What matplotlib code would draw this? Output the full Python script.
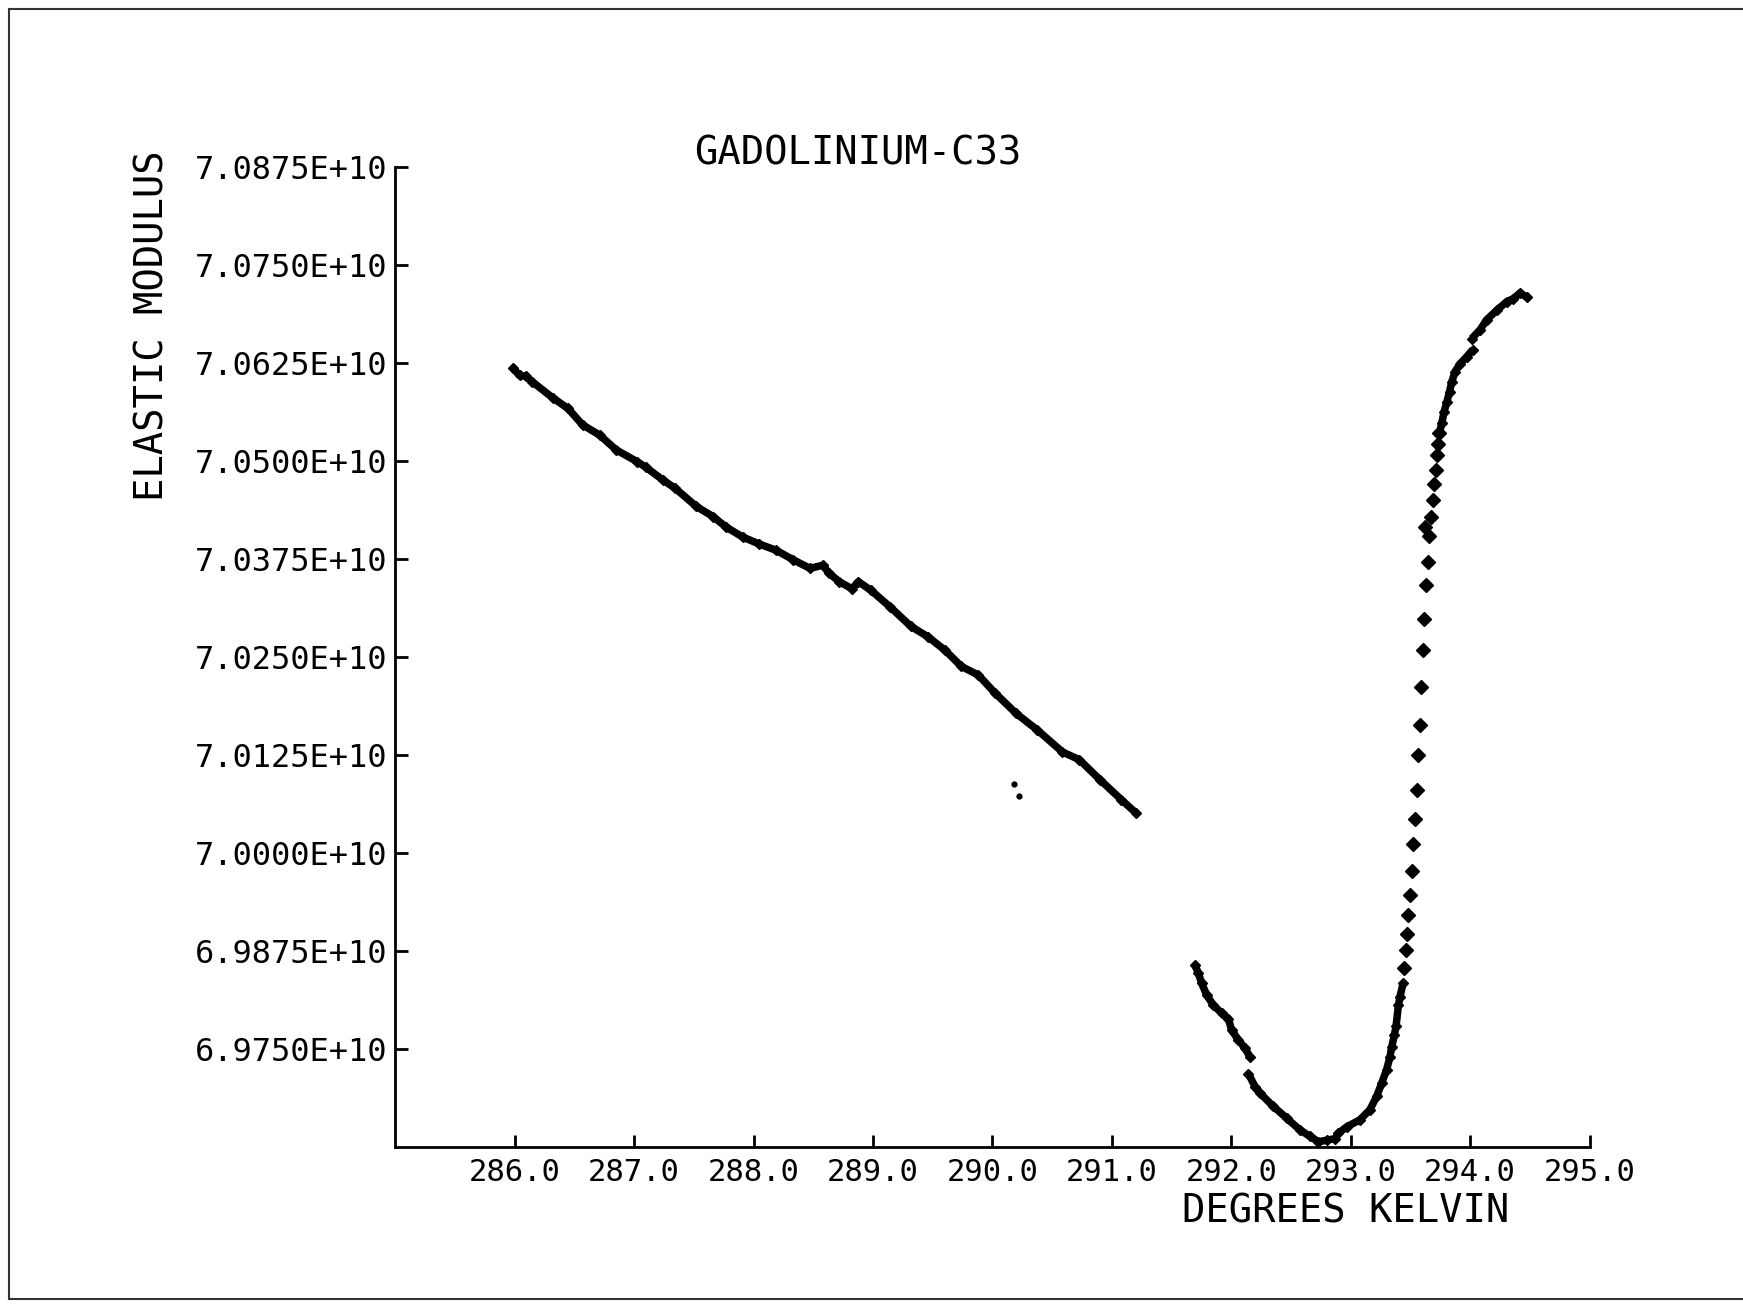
import matplotlib
matplotlib.use("Agg")
import matplotlib.pyplot as plt
from matplotlib.lines import Line2D
from matplotlib.ticker import FuncFormatter

# --- data (y in units of 1E+10) ---

# low temperature branch, 286 K .. 291.2 K
T_LOW = [285.987, 286.040, 286.093, 286.146, 286.322, 286.445, 286.568, 286.710,
         286.850, 287.026, 287.097, 287.238, 287.344, 287.520, 287.661, 287.767,
         287.908, 288.049, 288.190, 288.331, 288.472, 288.578, 288.631, 288.718,
         288.824, 288.878, 288.983, 289.142, 289.318, 289.458, 289.600, 289.740,
         289.882, 290.022, 290.199, 290.375, 290.586, 290.728, 290.904, 291.080,
         291.203]
C_LOW = [7.0618, 7.0609, 7.0608, 7.0601, 7.0580, 7.0567, 7.0546, 7.0533,
         7.0514, 7.0499, 7.0492, 7.0476, 7.0465, 7.0442, 7.0429, 7.0416,
         7.0403, 7.0394, 7.0386, 7.0374, 7.0363, 7.0367, 7.0357, 7.0346,
         7.0337, 7.0346, 7.0335, 7.0314, 7.0289, 7.0276, 7.0259, 7.0238,
         7.0227, 7.0204, 7.0178, 7.0157, 7.0129, 7.0119, 7.0093, 7.0068,
         7.0051]

# two stray points below the low branch
T_STRAY = [290.179, 290.226]
C_STRAY = [7.0088, 7.0073]

# dip near the transition
T_DIP_A = [291.696, 291.724, 291.752, 291.794, 291.850, 291.919, 291.975,
           292.003, 292.059, 292.115, 292.157]
C_DIP_A = [6.9857, 6.9847, 6.9834, 6.9819, 6.9806, 6.9796, 6.9789,
           6.9774, 6.9762, 6.9751, 6.9740]

T_DIP_B = [292.143, 292.199, 292.240, 292.352, 292.464, 292.575, 292.659,
           292.729, 292.798, 292.869, 292.897, 292.966, 293.077, 293.161,
           293.217, 293.260, 293.300, 293.328, 293.343, 293.365, 293.379,
           293.399, 293.412, 293.440]
C_DIP_B = [6.9719, 6.9702, 6.9694, 6.9677, 6.9662, 6.9647, 6.9639,
           6.9632, 6.9634, 6.9636, 6.9643, 6.9651, 6.9660, 6.9673,
           6.9690, 6.9707, 6.9724, 6.9740, 6.9753, 6.9768, 6.9779,
           6.9806, 6.9817, 6.9835]

# sparse points on the steep rise
T_RISE = [293.449, 293.460, 293.468, 293.482, 293.496, 293.516, 293.524,
          293.538, 293.552, 293.563, 293.581, 293.589, 293.609, 293.617,
          293.631, 293.650, 293.659, 293.623, 293.670, 293.692, 293.701,
          293.712, 293.726, 293.728, 293.742]
C_RISE = [6.9854, 6.9876, 6.9897, 6.9921, 6.9947, 6.9977, 7.0012,
          7.0043, 7.0080, 7.0125, 7.0163, 7.0212, 7.0259, 7.0299,
          7.0342, 7.0371, 7.0404, 7.0416, 7.0428, 7.0450, 7.0471,
          7.0488, 7.0508, 7.0522, 7.0535]

# knee and top
T_KNEE = [293.742, 293.762, 293.782, 293.804, 293.827, 293.846, 293.874,
          293.916, 293.972, 294.022]
C_KNEE = [7.0535, 7.0548, 7.0563, 7.0575, 7.0588, 7.0601, 7.0614,
          7.0624, 7.0633, 7.0642]

T_TOP = [294.013, 294.082, 294.138, 294.222, 294.306, 294.362, 294.417, 294.473]
C_TOP = [7.0656, 7.0667, 7.0680, 7.0692, 7.0703, 7.0707, 7.0714, 7.0709]

X_TICKS = [286.0, 287.0, 288.0, 289.0, 290.0, 291.0, 292.0, 293.0, 294.0, 295.0]
Y_TICKS = [6.9750, 6.9875, 7.0000, 7.0125, 7.0250, 7.0375, 7.0500, 7.0625,
           7.0750, 7.0875]

# --- plot ---
FONT = "DejaVu Sans Mono"

fig = plt.figure(figsize=(17.43, 13.04), dpi=100)
ax = fig.add_axes([0.2268, 0.1202, 0.6852, 0.7519])

# dense runs of points show up as a thick, slightly ragged line
for t, c in [(T_LOW, C_LOW), (T_DIP_A, C_DIP_A), (T_DIP_B, C_DIP_B),
             (T_KNEE, C_KNEE), (T_TOP, C_TOP)]:
    ax.plot(t, c, color="black", lw=5.4, solid_capstyle="butt",
            solid_joinstyle="round", marker="D", markersize=5, zorder=3)
ax.plot(T_RISE, C_RISE, ls="none", marker="D", markersize=6.8,
        color="black", zorder=3)
ax.plot(T_STRAY, C_STRAY, ls="none", marker="o", markersize=3.5,
        color="black", zorder=3)

ax.set_xlim(285.0, 295.0)
ax.set_ylim(6.9625, 7.0875)
ax.set_xticks(X_TICKS)
ax.set_yticks(Y_TICKS)
ax.xaxis.set_major_formatter(FuncFormatter(lambda v, p: f"{v:.1f}"))
ax.yaxis.set_major_formatter(FuncFormatter(lambda v, p: f"{v:.4f}E+10"))

for side in ["top", "right"]:
    ax.spines[side].set_visible(False)
for side in ["left", "bottom"]:
    ax.spines[side].set_linewidth(2.0)

ax.tick_params(direction="in", length=9, width=2.0)
ax.tick_params(axis="x", pad=8)
ax.tick_params(axis="y", pad=6)
for lab in ax.get_xticklabels():
    lab.set_fontfamily(FONT)
    lab.set_fontsize(22)
for lab in ax.get_yticklabels():
    lab.set_fontfamily(FONT)
    lab.set_fontsize(23)

ax.text(0.3876, 1.0136, "GADOLINIUM-C33", transform=ax.transAxes,
        ha="center", va="center", fontsize=28, family=FONT)
ax.text(0.796, -0.066, "DEGREES KELVIN", transform=ax.transAxes,
        ha="center", va="center", fontsize=28, family=FONT)
ax.text(-0.2035, 0.838, "ELASTIC MODULUS", transform=ax.transAxes,
        ha="center", va="center", rotation=90, fontsize=28, family=FONT)

# frame of the original page
fig.add_artist(Line2D([0.005, 0.005], [0.004, 0.993], color="#333333", lw=1.5))
fig.add_artist(Line2D([0.005, 1.0], [0.993, 0.993], color="#333333", lw=1.5))
fig.add_artist(Line2D([0.005, 1.0], [0.004, 0.004], color="#333333", lw=1.5))

fig.savefig("out.png", dpi=100)
